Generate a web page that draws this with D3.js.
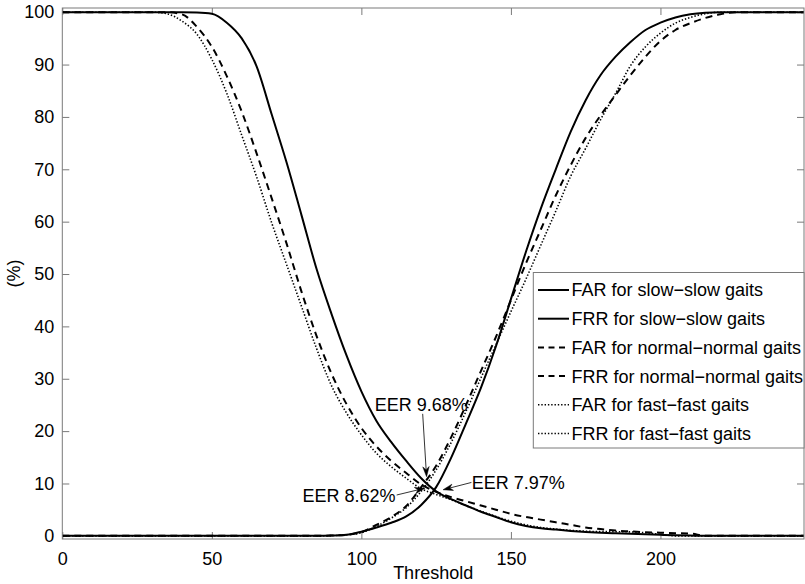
<!DOCTYPE html>
<html>
<head>
<meta charset="utf-8">
<script src="https://cdn.jsdelivr.net/npm/d3@7/dist/d3.min.js"></script>
<style>
  html, body { margin: 0; padding: 0; background: #fff; }
  svg { display: block; }
  text { font-family: "Liberation Sans", Arial, Helvetica, sans-serif; fill: #000; }
</style>
</head>
<body>
<svg id="chart" width="805" height="584"></svg>
<script>
// ---------------- data ----------------
const thresholds = [0,5,10,15,20,25,30,35,40,45,50,55,60,65,70,75,80,85,90,95,100,105,110,115,120,125,130,135,140,145,150,155,160,165,170,175,180,185,190,195,200,205,210,215,220,225,230,235,240,245,248];

const slowFAR = [100,100,100,100,100,100,100,100,100,
  99.95,99.7,98,95,89.6,80.5,71.3,61.2,51,42.4,34.5,27.6,22,17.9,14.3,11.0,8.5,7.0,5.8,4.6,3.6,2.6,1.9,1.45,1.2,0.95,0.75,0.6,0.5,0.4,0.3,0.2,0.1,0.05,
  0,0,0,0,0,0,0,0];
const slowFRR = [0,0,0,0,0,0,0,0,0,0,0,0,0,0,0,0,0,0,
  0.05,0.2,0.8,1.6,2.5,3.7,5.9,9.3,14.9,21.5,28.3,36.2,45.2,54.2,62.5,70,77.2,83.2,88,91.5,94.3,96.6,98,99,99.6,99.9,
  100,100,100,100,100,100,100];
const normalFAR = [100,100,100,100,100,100,100,100,
  99.6,97.2,93.4,87.8,81,73,64.5,55.8,46.6,38.2,31,25.2,20.6,17.1,14.3,12,9.8,8.4,7.4,6.6,5.8,5.0,4.2,3.6,3.1,2.6,2.1,1.6,1.3,1.0,0.85,0.7,0.6,0.5,0.45,
  0,0,0,0,0,0,0,0];
const normalFRR = [0,0,0,0,0,0,0,0,0,0,0,0,0,0,0,0,0,0,0.05,0.2,
  0.7,2.1,3.6,5.7,9.3,13.4,18.8,25,31.5,38,45,52,58.5,65,70.8,76,80.3,84.2,88,91.5,94.5,96.6,97.9,98.9,99.6,100,
  100,100,100,100,100];
const fastFAR = [100,100,100,100,100,100,100,
  99.7,98.3,95.8,91,84.5,76.5,68.5,59.8,51.8,43.8,35.8,28.7,23.5,19.3,15.8,13.2,11,9.0,7.9,6.9,5.8,4.7,3.7,2.8,2.1,1.6,1.3,1.05,0.9,0.8,0.8,0.75,0.6,0.3,0,
  0,0,0,0,0,0,0,0,0];
const fastFRR = [0,0,0,0,0,0,0,0,0,0,0,0,0,0,0,0,0,0,0.05,0.2,
  0.6,1.8,3.4,5.4,8.5,12.6,17.8,23.8,30.2,36.5,42.8,49,55.5,62,68.7,74,79.5,84.5,89.8,93.4,96,97.9,99,99.7,100,
  100,100,100,100,100,100];

const seriesNames = ["FAR for slow\u2212slow gaits","FRR for slow\u2212slow gaits",
  "FAR for normal\u2212normal gaits","FRR for normal\u2212normal gaits",
  "FAR for fast\u2212fast gaits","FRR for fast\u2212fast gaits"];
const seriesValues = [slowFAR, slowFRR, normalFAR, normalFRR, fastFAR, fastFRR];
const seriesStyles = ["solid","solid","dashed","dashed","dotted","dotted"];

const xTicks = [0,50,100,150,200];
const yTicks = [0,10,20,30,40,50,60,70,80,90,100];
const xLabel = "Threshold";
const yLabel = "(%)";

// annotations: text, text anchor point (t,v), arrow tail (t,v), arrow tip (t,v)
const eerLabels = ["EER 9.68%","EER 8.62%","EER 7.97%"];
const eerTextPos = [[104.5,23.9],[111.4,6.4],[136.9,8.9]];
const eerTextAnchor = ["start","end","start"];
const eerTail = [[120.5,23.3],[111.8,7.8],[136.8,10.2]];
const eerTip = [[121.8,11.3],[121.2,9.1],[127.3,8.8]];

// ---------------- layout ----------------
const svg = d3.select("#chart");
const L = 62.3, R = 804, T = 8, B = 539;
const x = d3.scaleLinear().domain([0,248]).range([L,R]);
const y = d3.scaleLinear().domain([-0.6,100.8]).range([B,T]);
const axisColor = "#7a7a7a";
const fs = 18;

svg.append("defs").append("clipPath").attr("id","clip")
  .append("rect").attr("x",L).attr("y",T).attr("width",R-L).attr("height",B-T);

// axes (MATLAB style: ticks inward, mirrored)
const gx = svg.append("g").attr("transform",`translate(0,${B})`)
  .call(d3.axisBottom(x).tickValues(xTicks).tickSize(-7).tickPadding(13).tickFormat(d3.format("d")));
const gxt = svg.append("g").attr("transform",`translate(0,${T})`)
  .call(d3.axisTop(x).tickValues(xTicks).tickSize(-7).tickFormat(""));
const gy = svg.append("g").attr("transform",`translate(${L},0)`)
  .call(d3.axisLeft(y).tickValues(yTicks).tickSize(-7).tickPadding(8).tickFormat(d3.format("d")));
const gyr = svg.append("g").attr("transform",`translate(${R},0)`)
  .call(d3.axisRight(y).tickValues(yTicks).tickSize(-7).tickFormat(""));
[gx,gxt,gy,gyr].forEach(g => {
  g.select(".domain").remove();
  g.selectAll(".tick line").attr("stroke",axisColor).attr("stroke-width",1);
  g.selectAll("text").attr("font-size",fs).attr("font-family","Liberation Sans, Arial, sans-serif").attr("fill","#000");
});
gx.selectAll("text").attr("dy","0.71em");

// data lines
const dashFor = s => s === "dashed" ? "7,5" : (s === "dotted" ? "1.4,1.9" : null);
const widthFor = s => s === "dotted" ? 1.6 : 2;
const line = d3.line().x((d,i) => x(thresholds[i])).y(d => y(d)).curve(d3.curveMonotoneX);
const plot = svg.append("g").attr("clip-path","url(#clip)");
seriesValues.forEach((vals,k) => {
  plot.append("path").datum(vals)
    .attr("d", line)
    .attr("fill","none")
    .attr("stroke","#000")
    .attr("stroke-width", widthFor(seriesStyles[k]))
    .attr("stroke-dasharray", dashFor(seriesStyles[k]));
});

// box
svg.append("rect").attr("x",L).attr("y",T).attr("width",R-L).attr("height",B-T)
  .attr("fill","none").attr("stroke",axisColor).attr("stroke-width",1);

// annotations
eerLabels.forEach((lab,i) => {
  const x0 = x(eerTail[i][0]), y0 = y(eerTail[i][1]);
  const x1 = x(eerTip[i][0]), y1 = y(eerTip[i][1]);
  const ang = Math.atan2(y1-y0, x1-x0);
  const hl = 10, hw = 3.2, notch = 7;
  const ux = Math.cos(ang), uy = Math.sin(ang);
  const px = -uy, py = ux;
  const bx = x1 - ux*hl, by = y1 - uy*hl;
  const nx = x1 - ux*notch, ny = y1 - uy*notch;
  svg.append("line").attr("x1",x0).attr("y1",y0).attr("x2",nx).attr("y2",ny)
    .attr("stroke","#000").attr("stroke-width",0.8);
  svg.append("path")
    .attr("d",`M${x1},${y1}L${bx+px*hw},${by+py*hw}L${nx},${ny}L${bx-px*hw},${by-py*hw}Z`)
    .attr("fill","#000").attr("stroke","#000").attr("stroke-width",0.5);
  svg.append("text").attr("x",x(eerTextPos[i][0])).attr("y",y(eerTextPos[i][1]))
    .attr("text-anchor",eerTextAnchor[i]).attr("font-size",fs).text(lab);
});

// legend
const lg = svg.append("g");
const lgX = 533.3, lgY = 272.5, lgW = 804 - 533.3, lgH = 175.5;
lg.append("rect").attr("x",lgX).attr("y",lgY).attr("width",lgW).attr("height",lgH)
  .attr("fill","#fff").attr("stroke",axisColor).attr("stroke-width",1);
seriesNames.forEach((name,k) => {
  const cy = 290 + k*28.7;
  lg.append("line").attr("x1",538).attr("x2",569).attr("y1",cy).attr("y2",cy)
    .attr("stroke","#000").attr("stroke-width",widthFor(seriesStyles[k]))
    .attr("stroke-dasharray", seriesStyles[k]==="dashed" ? "6,4.5" : dashFor(seriesStyles[k]));
  lg.append("text").attr("x",571.5).attr("y",cy).attr("dy","0.36em")
    .attr("font-size",fs).text(name);
});

// axis labels
svg.append("text").attr("x",(L+R)/2).attr("y",579).attr("text-anchor","middle")
  .attr("font-size",fs).text(xLabel);
svg.append("text").attr("transform",`translate(20,${(T+B)/2}) rotate(-90)`)
  .attr("text-anchor","middle").attr("font-size",fs).text(yLabel);
</script>
</body>
</html>
